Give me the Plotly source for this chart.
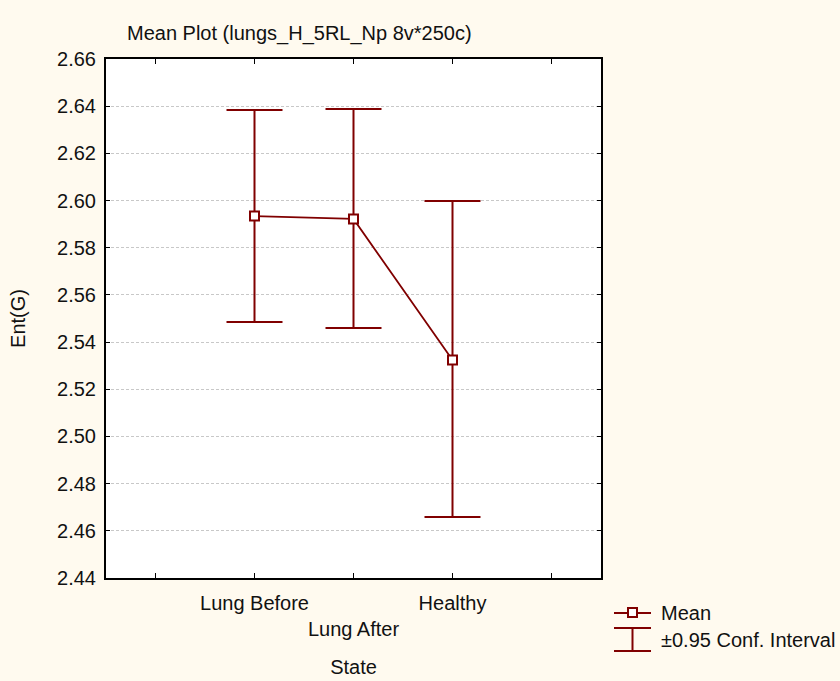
import plotly.graph_objects as go

categories = ["Lung Before", "Lung After", "Healthy"]
means = [2.5934, 2.5922, 2.5324]
ci_upper = [2.6384, 2.6388, 2.5998]
ci_lower = [2.5485, 2.5460, 2.4659]
y_ticks = [2.44, 2.46, 2.48, 2.50, 2.52, 2.54, 2.56, 2.58, 2.60, 2.62, 2.64, 2.66]

DARK = "#800000"
BG = "#FFFAEF"
FONT = dict(family="Liberation Sans, Arial, sans-serif", size=20, color="#111111")

x_pos = [i + 1 for i in range(len(categories))]
err_plus = [u - m for u, m in zip(ci_upper, means)]
err_minus = [m - l for m, l in zip(means, ci_lower)]

fig = go.Figure()
# error bars (no markers)
fig.add_trace(go.Scatter(
    x=x_pos, y=means, mode="markers",
    marker=dict(size=1, color="rgba(0,0,0,0)"),
    error_y=dict(type="data", symmetric=False, array=err_plus, arrayminus=err_minus,
                 color=DARK, thickness=2, width=28),
    showlegend=False, hoverinfo="skip"))
# mean line
fig.add_trace(go.Scatter(
    x=x_pos, y=means, mode="lines+markers",
    line=dict(color=DARK, width=1.8),
    marker=dict(symbol="square", size=9, color="white", line=dict(color=DARK, width=2)),
    showlegend=False))

tickvals_x = [0, 1, 2, 3, 4]
ticktext_x = ["", categories[0], "<br>" + categories[1], categories[2], ""]

fig.update_layout(
    width=840, height=681,
    paper_bgcolor=BG, plot_bgcolor="white",
    margin=dict(l=106, r=239, t=59, b=103),
    font=FONT,
    title=dict(text="Mean Plot (lungs_H_5RL_Np 8v*250c)", x=127/840, xanchor="left",
               y=1 - 33/681, yanchor="middle", font=FONT),
    xaxis=dict(range=[-0.5, 4.5], tickvals=tickvals_x, ticktext=ticktext_x, tickangle=0,
               ticks="inside", ticklen=5, tickcolor="black", mirror="ticks",
               showline=True, linecolor="black", linewidth=2, showgrid=False, zeroline=False,
               ticklabelstandoff=6, automargin=False,
               title=dict(text="State", standoff=21, font=FONT), tickfont=FONT),
    yaxis=dict(range=[2.44, 2.66], tickvals=y_ticks, tickformat=".2f",
               ticks="inside", ticklen=4, tickcolor="black", mirror="ticks",
               showline=True, linecolor="black", linewidth=2,
               showgrid=True, gridcolor="#c8c8c8", griddash="3px,2px", gridwidth=1, zeroline=False,
               ticklabelstandoff=4, automargin=False,
               title=dict(text="Ent(G)", standoff=26, font=FONT), tickfont=FONT),
)

def to_paper(xp, yp):
    # convert figure pixel coords to paper coords (paper spans plot area)
    return (xp - 106) / (601 - 106), (578 - yp) / (578 - 59)

# legend (drawn manually)
shapes = []
x0, y0 = to_paper(614, 613); x1, _ = to_paper(651, 613)
shapes.append(dict(type="line", xref="paper", yref="paper", x0=x0, x1=x1, y0=y0, y1=y0,
                   line=dict(color=DARK, width=2)))
sx0, sy0 = to_paper(628, 608); sx1, sy1 = to_paper(637, 617)
shapes.append(dict(type="rect", xref="paper", yref="paper", x0=sx0, x1=sx1, y0=sy0, y1=sy1,
                   line=dict(color=DARK, width=2), fillcolor="white"))
cx, ct = to_paper(632.5, 628); _, cb = to_paper(632.5, 651)
shapes.append(dict(type="line", xref="paper", yref="paper", x0=cx, x1=cx, y0=ct, y1=cb,
                   line=dict(color=DARK, width=2)))
for yy in (628, 651):
    a0, b0 = to_paper(614, yy); a1, _ = to_paper(651, yy)
    shapes.append(dict(type="line", xref="paper", yref="paper", x0=a0, x1=a1, y0=b0, y1=b0,
                       line=dict(color=DARK, width=2)))
fig.update_layout(shapes=shapes)

ax, ay = to_paper(659, 613)
fig.add_annotation(xref="paper", yref="paper", x=ax, y=ay, text="Mean", showarrow=False,
                   xanchor="left", yanchor="middle", font=FONT)
ax, ay = to_paper(659, 640)
fig.add_annotation(xref="paper", yref="paper", x=ax, y=ay, text="±0.95 Conf. Interval",
                   showarrow=False, xanchor="left", yanchor="middle", font=FONT)

fig.write_html("out.html", config={"displayModeBar": False},
               post_script="document.body.style.margin='0';document.body.style.background='" + BG + "';")
